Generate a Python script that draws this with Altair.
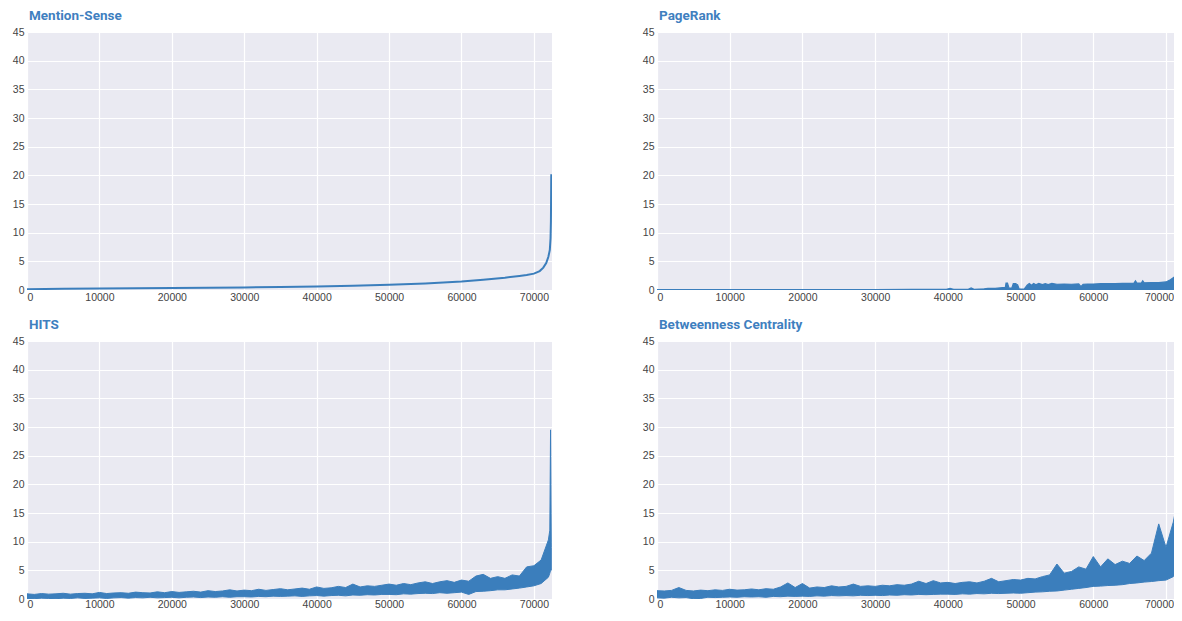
import altair as alt
import pandas as pd

BLUE = "#3b7ebc"
TITLE_BLUE = "#3f80bf"

# ---------------- Mention-Sense (smooth sorted curve) ----------------
ms_x = [0, 5000, 10000, 15000, 20000, 25000, 30000, 35000, 40000, 45000,
        50000, 55000, 60000, 63000, 66000, 68000, 69000, 70000, 70800, 71300,
        71700, 72000, 72200, 72300, 72350, 72400]
ms_y = [0.15, 0.2, 0.25, 0.3, 0.35, 0.4, 0.45, 0.52, 0.6, 0.72,
        0.9, 1.15, 1.5, 1.8, 2.15, 2.45, 2.6, 2.85, 3.3, 3.9,
        4.7, 5.8, 7.0, 9.0, 12.0, 20.2]

# ---------------- PageRank (upper envelope, filled to 0) ----------------
pr_x = [0, 5000, 10000, 15000, 20000, 25000, 30000, 35000, 39800, 40300,
        40800, 42800, 43200, 43600, 45000, 45500, 46500, 47500, 47900, 48000,
        48200, 48400, 48800, 49000, 49300, 49600, 49800, 50500, 50900, 51200,
        51500, 51800, 52100, 52500, 53000, 53400, 53800, 54300, 55000, 56000,
        57000, 58000, 58300, 58600, 59200, 60000, 61000, 62000, 63000, 64000,
        65000, 65600, 65800, 66000, 66600, 66800, 67000, 68000, 69000, 70000,
        70600, 71200, 71700, 72000, 72200, 72350, 72450]
pr_hi = [0.08, 0.08, 0.08, 0.08, 0.08, 0.08, 0.08, 0.1, 0.1, 0.3,
         0.1, 0.12, 0.35, 0.12, 0.2, 0.3, 0.3, 0.4, 0.4, 1.2,
         1.2, 0.35, 0.35, 1.1, 1.1, 0.9, 0.2, 0.15, 0.85, 1.15,
         0.85, 1.15, 0.9, 1.15, 0.95, 1.1, 0.95, 1.15, 1.0, 1.05,
         1.0, 1.05, 0.6, 1.0, 1.05, 1.05, 1.1, 1.1, 1.1, 1.15,
         1.15, 1.2, 1.6, 1.2, 1.2, 1.6, 1.25, 1.3, 1.3, 1.4,
         1.8, 2.3, 2.6, 2.8, 3.2, 4.1, 3.5]

# ---------------- HITS / Betweenness bands (x in thousands) ----------------
band_k = [0, 1, 2, 3, 4, 5, 6, 7, 8, 9,
          10, 11, 12, 13, 14, 15, 16, 17, 18, 19,
          20, 21, 22, 23, 24, 25, 26, 27, 28, 29,
          30, 31, 32, 33, 34, 35, 36, 37, 38, 39,
          40, 41, 42, 43, 44, 45, 46, 47, 48, 49,
          50, 51, 52, 53, 54, 55, 56, 57, 58, 59,
          60, 61, 62, 63, 64, 65, 66, 67, 68, 69,
          70, 71, 72, 72.2, 72.3, 72.4]

hits_hi = [0.9, 0.8, 0.95, 0.85, 0.9, 1.0, 0.85, 0.95, 1.0, 0.9,
           1.15, 0.95, 1.05, 1.1, 1.0, 1.2, 1.1, 1.05, 1.25, 1.1,
           1.3, 1.15, 1.25, 1.35, 1.2, 1.45, 1.3, 1.4, 1.6, 1.4,
           1.55, 1.45, 1.7, 1.5, 1.65, 1.8, 1.6, 1.75, 1.9, 1.7,
           2.1, 1.85, 1.95, 2.2, 2.0, 2.6, 2.1, 2.3, 2.2, 2.4,
           2.6, 2.4, 2.7, 2.5, 2.8, 3.0, 2.7, 3.0, 3.2, 2.9,
           3.3, 3.1, 4.0, 4.3, 3.6, 3.9, 3.6, 4.2, 4.0, 5.6,
           5.8, 6.8, 10.3, 12.0, 29.5, 9.0]
hits_lo = [0.1, 0.05, 0.15, 0.1, 0.05, 0.15, 0.1, 0.2, 0.1, 0.15,
           0.2, 0.1, 0.2, 0.25, 0.15, 0.25, 0.2, 0.3, 0.2, 0.25,
           0.3, 0.2, 0.3, 0.35, 0.25, 0.35, 0.3, 0.4, 0.3, 0.4,
           0.4, 0.35, 0.45, 0.4, 0.5, 0.45, 0.5, 0.55, 0.45, 0.55,
           0.6, 0.5, 0.6, 0.65, 0.55, 0.7, 0.65, 0.75, 0.7, 0.8,
           0.8, 0.75, 0.9, 0.85, 0.95, 1.0, 0.95, 1.1, 1.0, 1.1,
           1.2, 0.8, 1.3, 1.35, 1.45, 1.6, 1.6, 1.75, 1.9, 2.1,
           2.3, 2.7, 3.8, 4.5, 5.0, 5.0]

bc_hi = [1.45, 1.4, 1.5, 2.0, 1.5, 1.4, 1.55, 1.45, 1.6, 1.5,
         1.7, 1.55, 1.6, 1.75, 1.6, 1.8, 1.7, 2.1, 2.8, 2.0,
         2.7, 1.9, 2.1, 2.0, 2.3, 2.1, 2.2, 2.6, 2.2, 2.3,
         2.2, 2.4, 2.3, 2.5, 2.4, 2.6, 3.1, 2.7, 3.2, 2.8,
         2.9, 2.7, 2.9, 3.0, 2.8, 3.1, 3.6, 3.0, 3.2, 3.4,
         3.3, 3.6, 3.5, 3.9, 4.2, 6.1, 4.5, 4.8, 5.6, 5.2,
         7.4, 5.6, 7.0, 6.0, 6.6, 6.2, 7.5, 6.7, 8.0, 13.1,
         9.0, 13.4, 20.0, 26.0, 33.0, 20.0]
bc_lo = [0.2, 0.15, 0.3, 0.2, 0.25, 0.05, 0.1, 0.3, 0.25, 0.3,
         0.35, 0.3, 0.4, 0.35, 0.4, 0.3, 0.45, 0.4, 0.5, 0.45,
         0.5, 0.45, 0.55, 0.5, 0.6, 0.55, 0.6, 0.55, 0.65, 0.6,
         0.65, 0.6, 0.7, 0.65, 0.75, 0.7, 0.8, 0.75, 0.8, 0.85,
         0.85, 0.8, 0.9, 0.85, 0.95, 0.9, 1.0, 0.95, 1.0, 1.05,
         1.0, 1.1, 1.2, 1.25, 1.35, 1.4, 1.55, 1.7, 1.85, 2.0,
         2.2, 2.25, 2.35, 2.4, 2.5, 2.7, 2.8, 2.95, 3.05, 3.2,
         3.3, 3.9, 6.0, 8.0, 12.0, 12.0]

x_ticks = [0, 10000, 20000, 30000, 40000, 50000, 60000, 70000]
y_ticks = [0, 5, 10, 15, 20, 25, 30, 35, 40, 45]

ms_df = pd.DataFrame({"x": ms_x, "hi": ms_y})
pr_df = pd.DataFrame({"x": pr_x, "hi": pr_hi, "lo": [0.0] * len(pr_x)})
band_x = [k * 1000 for k in band_k]
hits_df = pd.DataFrame({"x": band_x, "hi": hits_hi, "lo": hits_lo})
bc_df = pd.DataFrame({"x": band_x, "hi": bc_hi, "lo": bc_lo})


# left column: full range; right column: the reference is cut off at the
# window edge, so its visible range ends earlier at the same pixel scale
def x_left(pad):
    return alt.X("x:Q", scale=alt.Scale(domain=[0, 72500], nice=False, zero=False),
                 axis=alt.Axis(values=x_ticks, format="d", title=None,
                               labelPadding=pad))


def x_right(pad):
    return alt.X("x:Q", scale=alt.Scale(domain=[0, 71100], nice=False, zero=False),
                 axis=alt.Axis(values=x_ticks, format="d", title=None,
                               labelPadding=pad,
                               labelOffset={"condition": {"test": "datum.value == 70000",
                                                          "value": -7},
                                            "value": 0}))


Y = alt.Y("hi:Q", scale=alt.Scale(domain=[0, 45], nice=False),
          axis=alt.Axis(values=y_ticks, title=None))


def title(t):
    return alt.TitleParams(t, anchor="start", frame="group", font="Roboto",
                           fontSize=13.5, fontWeight="bold", color=TITLE_BLUE,
                           offset=5, dx=2)


H = 258
WL, WR = 525, 517

ms_chart = alt.Chart(ms_df).mark_line(color=BLUE, strokeWidth=2, clip=True).encode(
    x=x_left(2), y=Y).properties(width=WL, height=H, title=title("Mention-Sense"))

pr_chart = alt.Chart(pr_df).mark_area(color=BLUE, stroke=BLUE, strokeWidth=1.2,
                                      clip=True).encode(
    x=x_right(2), y=Y, y2="lo:Q").properties(width=WR, height=H,
                                             title=title("PageRank"))

hits_chart = alt.Chart(hits_df).mark_area(color=BLUE, stroke=BLUE, strokeWidth=1,
                                          clip=True).encode(
    x=x_left(0), y=Y, y2="lo:Q").properties(width=WL, height=H, title=title("HITS"))

bc_chart = alt.Chart(bc_df).mark_area(color=BLUE, stroke=BLUE, strokeWidth=1,
                                      clip=True).encode(
    x=x_right(0), y=Y, y2="lo:Q").properties(width=WR, height=H,
                                             title=title("Betweenness Centrality"))

row1 = alt.hconcat(ms_chart, pr_chart, spacing=86)
row2 = alt.hconcat(hits_chart, bc_chart, spacing=86)

chart = alt.vconcat(row1, row2, spacing=14,
                    padding={"left": 0, "top": 0, "right": 0, "bottom": 0},
                    background="white"
).configure_view(
    fill="#EAEAF2", stroke=None
).configure_axis(
    grid=True, gridColor="white", gridWidth=1.2, domain=False, ticks=False,
    labelFont="Liberation Sans", labelFontSize=10.5, labelColor="#444444"
).configure_axisX(
    tickSize=0, minExtent=13, maxExtent=13
).configure_axisY(
    labelPadding=3, minExtent=19, maxExtent=19
)

chart.save("out.html", embed_options={"renderer": "svg", "actions": False})
